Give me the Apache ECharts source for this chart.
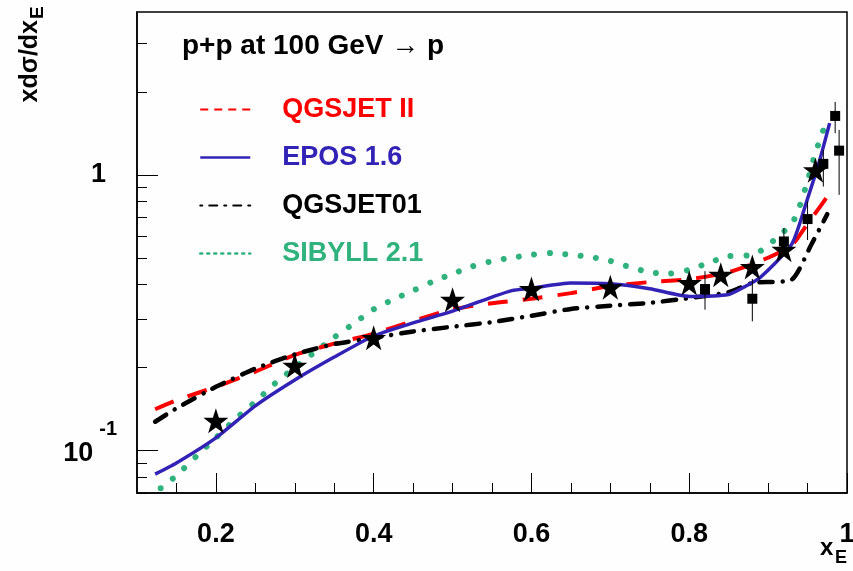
<!DOCTYPE html>
<html><head><meta charset="utf-8">
<script src="https://cdn.jsdelivr.net/npm/echarts@6/dist/echarts.min.js"></script>
<style>html,body{margin:0;padding:0;background:#fdfefd}#c{width:853px;height:571px}</style>
</head><body><div id="c"></div>
<script>
// ---- data ----
const qgsjet2X = [0.123,0.15,0.2,0.25,0.3,0.35,0.4,0.45,0.5,0.55,0.6,0.65,0.7,0.75,0.8,0.85,0.9,0.93,0.95,0.965,0.977];
const qgsjet2Y = [0.141,0.152,0.17,0.193,0.222,0.244,0.265,0.295,0.325,0.342,0.355,0.372,0.395,0.408,0.418,0.443,0.5,0.555,0.665,0.76,0.85];

const eposX = [0.123,0.15,0.2,0.25,0.3,0.35,0.4,0.45,0.5,0.55,0.575,0.6,0.65,0.7,0.75,0.8,0.85,0.87,0.89,0.93,0.95,0.965,0.978];
const eposY = [0.082,0.09,0.111,0.145,0.18,0.218,0.26,0.29,0.32,0.36,0.38,0.388,0.405,0.402,0.386,0.362,0.368,0.392,0.424,0.56,0.82,1.12,1.54];

const qgsjet01X = [0.123,0.15,0.2,0.25,0.3,0.35,0.4,0.45,0.5,0.55,0.6,0.65,0.7,0.75,0.8,0.85,0.88,0.93,0.955,0.975];
const qgsjet01Y = [0.127,0.142,0.17,0.198,0.223,0.243,0.256,0.27,0.281,0.292,0.308,0.326,0.335,0.343,0.357,0.375,0.405,0.417,0.56,0.72];

const sibyllX = [0.13,0.15,0.175,0.2,0.225,0.25,0.275,0.3,0.325,0.35,0.375,0.4,0.425,0.45,0.475,0.5,0.525,0.55,0.575,0.6,0.625,0.65,0.675,0.7,0.725,0.75,0.775,0.8,0.825,0.85,0.875,0.895,0.913,0.93,0.94,0.95,0.96,0.973];
const sibyllY = [0.0728,0.081,0.095,0.111,0.13,0.15,0.175,0.2,0.227,0.257,0.289,0.325,0.353,0.38,0.41,0.437,0.465,0.486,0.5,0.513,0.52,0.513,0.503,0.487,0.462,0.443,0.438,0.452,0.48,0.507,0.51,0.538,0.6,0.663,0.77,0.95,1.2,1.54];

const starX = [0.2,0.3,0.4,0.5,0.6,0.7,0.8,0.84,0.88,0.92,0.96];
const starY = [0.128,0.203,0.256,0.352,0.385,0.391,0.405,0.434,0.463,0.535,1.04];

const squareX  = [0.82,0.88,0.92,0.95,0.97,0.985,0.99];
const squareY  = [0.385,0.355,0.573,0.691,1.096,1.636,1.224];
const squareLo = [0.324,0.294,0.506,0.58,0.907,1.416,0.846];
const squareHi = [0.447,0.419,0.641,0.8,1.23,1.84,1.456];

const xMajorTicks = [0.2,0.4,0.6,0.8,1.0];
const xMinorTicks = [0.15,0.25,0.3,0.35,0.45,0.5,0.55,0.65,0.7,0.75,0.85,0.9,0.95];
const yMinorTicks = [0.07,0.08,0.09,0.2,0.3,0.4,0.5,0.6,0.7,0.8,0.9,2,3];

const titleText = 'p+p at 100 GeV \u2192 p';
const names = ['QGSJET II','EPOS 1.6','QGSJET01','SIBYLL 2.1'];

// ---- chart ----
const FONT = '"Liberation Sans", Arial, Helvetica, sans-serif';
const RED = '#ff0000', BLUE = '#3322b6', BLACK = '#000000', GREEN = '#2fb27d';
const Y_MIN = 0.07, Y_MAX = 3.9;
const zip = (a, b) => a.map((v, i) => [v, b[i]]);
const STAR = 'path://M50,0 L61.8,35.1 L98.9,35.1 L69,56.8 L80.3,91.9 L50,70.2 L19.7,91.9 L31,56.8 L1.1,35.1 L38.2,35.1 Z';
const HIDDEN = {color: 'rgba(0,0,0,0)', borderWidth: 0, opacity: 0};

const chart = echarts.init(document.getElementById('c'), null, {renderer: 'canvas'});

chart.setOption({
  animation: false,
  backgroundColor: '#fdfefd',
  grid: {left: 137, right: 6, top: 12, bottom: 78, show: true, borderColor: '#000', borderWidth: 1.5,
    backgroundColor: 'transparent', containLabel: false, outerBoundsMode: 'none'},
  xAxis: [{
    type: 'value', min: 0.1, max: 1.0, position: 'bottom',
    axisLine: {show: true, onZero: false, lineStyle: {color: '#000', width: 1.5}},
    axisTick: {show: true, inside: true, length: 20, customValues: xMajorTicks, lineStyle: {color: '#000', width: 1}},
    axisLabel: {show: true, customValues: xMajorTicks, margin: 28, color: '#000', fontFamily: FONT, fontWeight: 'bold', fontSize: 27,
      formatter: v => (Math.abs(v - 1) < 1e-9 ? '1' : v.toFixed(1))},
    splitLine: {show: false}
  }, {
    type: 'value', min: 0.1, max: 1.0, position: 'bottom',
    axisLine: {show: false, onZero: false},
    axisTick: {show: true, inside: true, length: 10, customValues: xMinorTicks, lineStyle: {color: '#000', width: 1}},
    axisLabel: {show: false}, splitLine: {show: false}
  }],
  yAxis: [{
    type: 'log', logBase: 10, min: Y_MIN, max: Y_MAX, position: 'left',
    axisLine: {show: true, onZero: false, lineStyle: {color: '#000', width: 1.5}},
    axisTick: {show: true, inside: true, length: 21, lineStyle: {color: '#000', width: 1}},
    axisLabel: {show: true, showMinLabel: false, showMaxLabel: false, margin: 20, color: '#000', fontFamily: FONT, fontWeight: 'bold', fontSize: 27,
      formatter: v => {
        const p = Math.round(Math.log10(v));
        return p === 0 ? '{one|1}' : '{b|10}{s|' + p + '}';
      },
      rich: {
        one: {fontFamily: FONT, fontWeight: 'bold', fontSize: 27, padding: [0, 11, 0, 0]},
        b: {fontFamily: FONT, fontWeight: 'bold', fontSize: 27, padding: [21, 6, 0, 0], verticalAlign: 'top'},
        s: {fontFamily: FONT, fontWeight: 'bold', fontSize: 20, padding: [0, 0, 42, 0], verticalAlign: 'top'}
      }
    },
    splitLine: {show: false}
  }, {
    type: 'value', min: Math.log10(Y_MIN), max: Math.log10(Y_MAX), position: 'left',
    axisLine: {show: false, onZero: false},
    axisTick: {show: true, inside: true, length: 10, customValues: yMinorTicks.map(v => Math.log10(v)), lineStyle: {color: '#000', width: 1}},
    axisLabel: {show: false}, splitLine: {show: false}
  }],
  legend: {
    orient: 'vertical', left: 194, top: 91, itemWidth: 50, itemHeight: 14, itemGap: 21,
    selectedMode: false,
    itemStyle: HIDDEN,
    textStyle: {fontFamily: FONT, fontWeight: 'bold', fontSize: 27, padding: [0, 0, 0, 27]},
    data: [
      {name: names[0], itemStyle: HIDDEN, textStyle: {color: RED}, lineStyle: {color: RED, width: 2, type: [8, 6]}},
      {name: names[1], itemStyle: HIDDEN, textStyle: {color: BLUE}, lineStyle: {color: BLUE, width: 2.5, type: 'solid'}},
      {name: names[2], itemStyle: HIDDEN, textStyle: {color: BLACK}, lineStyle: {color: BLACK, width: 2, type: [2, 7, 8, 7]}},
      {name: names[3], itemStyle: HIDDEN, textStyle: {color: GREEN}, lineStyle: {color: GREEN, width: 2.5, type: [2, 5]}}
    ]
  },
  graphic: [
    {type: 'text', x: 182, y: 46, style: {text: titleText, font: 'bold 28px ' + FONT, fill: '#000', verticalAlign: 'middle'}},
    {type: 'text', x: 30, y: 20, rotation: Math.PI / 2, style: {text: 'xd\u03c3/dx', font: 'bold 25px ' + FONT, fill: '#000', align: 'right', verticalAlign: 'middle'}},
    {type: 'text', x: 38, y: 19, rotation: Math.PI / 2, style: {text: 'E', font: 'bold 19px ' + FONT, fill: '#000', align: 'left', verticalAlign: 'middle'}},
    {type: 'text', x: 820, y: 548, style: {text: 'x', font: 'bold 24px ' + FONT, fill: '#000', align: 'left', verticalAlign: 'middle'}},
    {type: 'text', x: 835, y: 558, style: {text: 'E', font: 'bold 18px ' + FONT, fill: '#000', align: 'left', verticalAlign: 'middle'}}
  ],
  series: [
    {name: names[3], type: 'line', data: zip(sibyllX, sibyllY), symbol: 'none', smooth: 0.2, z: 2,
      itemStyle: {color: GREEN}, lineStyle: {color: GREEN, width: 6, type: [0.001, 15.5], cap: 'round'}},
    {name: names[0], type: 'line', data: zip(qgsjet2X, qgsjet2Y), symbol: 'none', smooth: 0.2, z: 3,
      itemStyle: {color: RED}, lineStyle: {color: RED, width: 4, type: [20, 15], cap: 'butt'}},
    {name: names[2], type: 'line', data: zip(qgsjet01X, qgsjet01Y), symbol: 'none', smooth: 0.2, z: 3,
      itemStyle: {color: BLACK}, lineStyle: {color: BLACK, width: 4.5, type: [13, 10, 0.001, 10], cap: 'round'}},
    {name: names[1], type: 'line', data: zip(eposX, eposY), symbol: 'none', smooth: 0.2, z: 4,
      itemStyle: {color: BLUE}, lineStyle: {color: BLUE, width: 3.5, type: 'solid'}},
    {name: 'errors', type: 'custom', z: 10,
      data: squareX.map((x, i) => [x, squareLo[i], squareHi[i]]),
      encode: {x: 0, y: [1, 2]},
      renderItem: (params, api) => {
        const p1 = api.coord([api.value(0), api.value(1)]);
        const p2 = api.coord([api.value(0), api.value(2)]);
        return {type: 'line', shape: {x1: p1[0], y1: p1[1], x2: p2[0], y2: p2[1]}, style: {stroke: '#000', lineWidth: 1}};
      }},
    {name: 'squares', type: 'scatter', data: zip(squareX, squareY), symbol: 'rect', symbolSize: 10, z: 11,
      itemStyle: {color: '#000', opacity: 1}},
    {name: 'stars', type: 'scatter', data: zip(starX, starY), symbol: STAR, symbolSize: 25, z: 12,
      itemStyle: {color: '#000', opacity: 1}}
  ]
});
</script></body></html>
